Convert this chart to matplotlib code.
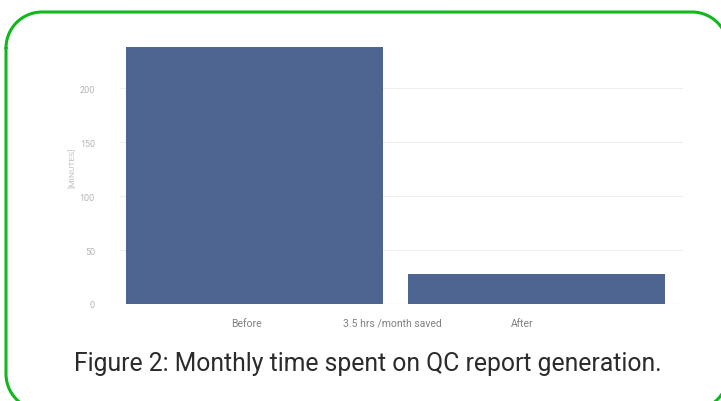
import matplotlib
matplotlib.use("Agg")
import matplotlib.pyplot as plt
from matplotlib.lines import Line2D
import numpy as np

categories = ["Before", "After"]
minutes = [238, 28]
tick_labels = ["Before", "3.5 hrs /month saved", "After"]
tick_positions = [-0.03, 0.487, 0.947]
y_ticks = [0, 50, 100, 150, 200]
caption = "Figure 2: Monthly time spent on QC report generation."

W, H = 721, 402
fig = plt.figure(figsize=(W / 100, H / 100), dpi=100)
fig.patch.set_facecolor("white")

# green rounded frame built in pixel coordinates
fx0, fy_top, fx1, fy_bot, r = 6, 13, 728, 411, 36
def arc(cx, cy, a0, a1, n=40):
    t = np.radians(np.linspace(a0, a1, n))
    return cx + r * np.cos(t), cy - r * np.sin(t)
xs, ys = [], []
for cx, cy, a0, a1 in [(fx0 + r, fy_top + r, 180, 90),
                       (fx1 - r, fy_top + r, 90, 0),
                       (fx1 - r, fy_bot - r, 0, -90),
                       (fx0 + r, fy_bot - r, -90, -180)]:
    ax_, ay_ = arc(cx, cy, a0, a1)
    xs.extend(ax_); ys.extend(ay_)
xs.append(xs[0]); ys.append(ys[0])
fig.add_artist(Line2D(np.array(xs) / W, 1 - np.array(ys) / H,
                      transform=fig.transFigure, color="#10b81a",
                      linewidth=2.2, solid_capstyle="round"))

ax_l, ax_r = 120, 683
ax_t, ax_b = 30, 305
ax = fig.add_axes([ax_l / W, 1 - ax_b / H, (ax_r - ax_l) / W, (ax_b - ax_t) / H],
                  zorder=1)
ax.set_facecolor("none")

x = list(range(len(categories)))
ax.bar(x, minutes, width=0.91, color="#4e6591", zorder=3)
ax.set_xlim(-0.476, 1.517)
ax.set_ylim(0, 255)

ax.set_yticks(y_ticks)
ax.set_yticklabels([str(v) for v in y_ticks], fontsize=6.5, color="#b5b5b5",
                   family="Roboto")
ax.tick_params(axis="y", length=0, pad=18)
ax.grid(axis="y", color="#eeeeee", linewidth=0.8, zorder=0)
ax.set_xticks(tick_positions)
ax.set_xticklabels(tick_labels, fontsize=7.5, color="#808080", family="Roboto")
ax.tick_params(axis="x", length=0, pad=10)
for s in ax.spines.values():
    s.set_visible(False)
ax.axhline(0, color="#e6e6e6", linewidth=0.8, zorder=1)

ax.set_ylabel("[MINUTES]", fontsize=6, color="#c0c0c0", family="Roboto",
              labelpad=3)

fig.text(368 / W, 1 - 371 / H, caption, ha="center", va="baseline",
         fontsize=17.8, color="#2b2b2b", family="Roboto")

fig.savefig("out.png", dpi=100, facecolor="white")
